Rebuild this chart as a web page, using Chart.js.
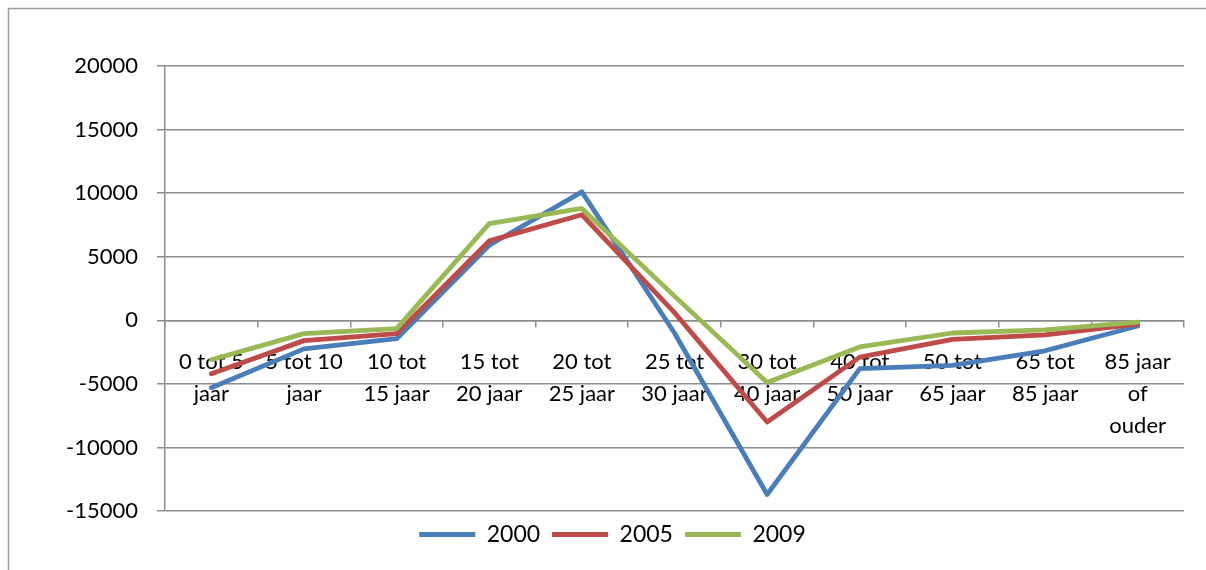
<!DOCTYPE html>
<html>
<head>
<meta charset="utf-8">
<script src="https://cdn.jsdelivr.net/npm/chart.js@4/dist/chart.umd.min.js"></script>
<style>
  html, body { margin: 0; padding: 0; background: #ffffff; }
  #wrap { width: 1206px; height: 570px; position: relative; }
</style>
</head>
<body>
<div id="wrap"><canvas id="c" width="1206" height="570"></canvas></div>
<script>
const categories = [
  ["0 tot 5", "jaar"], ["5 tot 10", "jaar"], ["10 tot", "15 jaar"], ["15 tot", "20 jaar"],
  ["20 tot", "25 jaar"], ["25 tot", "30 jaar"], ["30 tot", "40 jaar"], ["40 tot", "50 jaar"],
  ["50 tot", "65 jaar"], ["65 tot", "85 jaar"], ["85 jaar", "of", "ouder"]
];
const seriesNames = ["2000", "2005", "2009"];
const values2000 = [-5300, -2250, -1450, 5900, 10100, -1000, -13700, -3800, -3550, -2400, -450];
const values2005 = [-4200, -1600, -1050, 6250, 8300, 600, -8000, -2900, -1500, -1150, -300];
const values2009 = [-3100, -1050, -650, 7600, 8800, 1900, -4900, -2100, -1000, -750, -150];
const yTicks = [-15000, -10000, -5000, 0, 5000, 10000, 15000, 20000];

const FONT = "Lato, 'Open Sans', sans-serif";
const GRID = '#8c8c8c';

const frame = {
  id: 'frame',
  beforeDraw(chart) {
    const ctx = chart.ctx;
    ctx.save();
    ctx.strokeStyle = '#9a9a9a';
    ctx.lineWidth = 1.5;
    ctx.strokeRect(8.5, 8.5, 1400, 1000);
    ctx.restore();
  }
};

function mk(label, data, color, order) {
  return {
    label, data, borderColor: color, backgroundColor: color,
    borderWidth: 4.8, pointRadius: 0, pointHoverRadius: 0, tension: 0,
    borderJoinStyle: 'round', borderCapStyle: 'round', fill: false, order
  };
}

new Chart(document.getElementById('c'), {
  type: 'line',
  data: {
    labels: categories,
    datasets: [
      mk(seriesNames[0], values2000, '#4a7ebb', 2),
      mk(seriesNames[1], values2005, '#be4b48', 1),
      mk(seriesNames[2], values2009, '#98b954', 0)
    ]
  },
  options: {
    responsive: false,
    animation: false,
    events: [],
    layout: { padding: { left: 41, right: 22, top: 66, bottom: 14 } },
    plugins: {
      legend: {
        position: 'bottom',
        labels: {
          usePointStyle: true,
          pointStyle: 'line',
          pointStyleWidth: 56,
          boxHeight: 22,
          padding: 12,
          color: '#000',
          font: { family: FONT, size: 23 },
          sort: (a, b) => a.datasetIndex - b.datasetIndex
        }
      },
      tooltip: { enabled: false }
    },
    scales: {
      x: {
        type: 'category',
        position: { y: 0 },
        offset: true,
        grid: { display: true, offset: true, drawOnChartArea: false, drawTicks: true, tickLength: 6, color: GRID, lineWidth: 1.5 },
        border: { display: true, color: GRID, width: 1.5 },
        ticks: {
          autoSkip: false, maxRotation: 0, minRotation: 0, padding: 20,
          color: '#000', font: { family: FONT, size: 22, lineHeight: 1.45 }
        }
      },
      y: {
        min: -15000, max: 20000,
        afterFit(scale) { scale.width = 124; },
        afterBuildTicks(scale) { scale.ticks = yTicks.map(v => ({ value: v })); },
        grid: { color: GRID, lineWidth: 1.5, drawTicks: true, tickLength: 8 },
        border: { display: true, color: GRID, width: 1.5 },
        ticks: {
          padding: 19, color: '#000',
          font: { family: FONT, size: 22 },
          callback: v => String(v)
        }
      }
    }
  },
  plugins: [frame]
});
</script>
</body>
</html>
